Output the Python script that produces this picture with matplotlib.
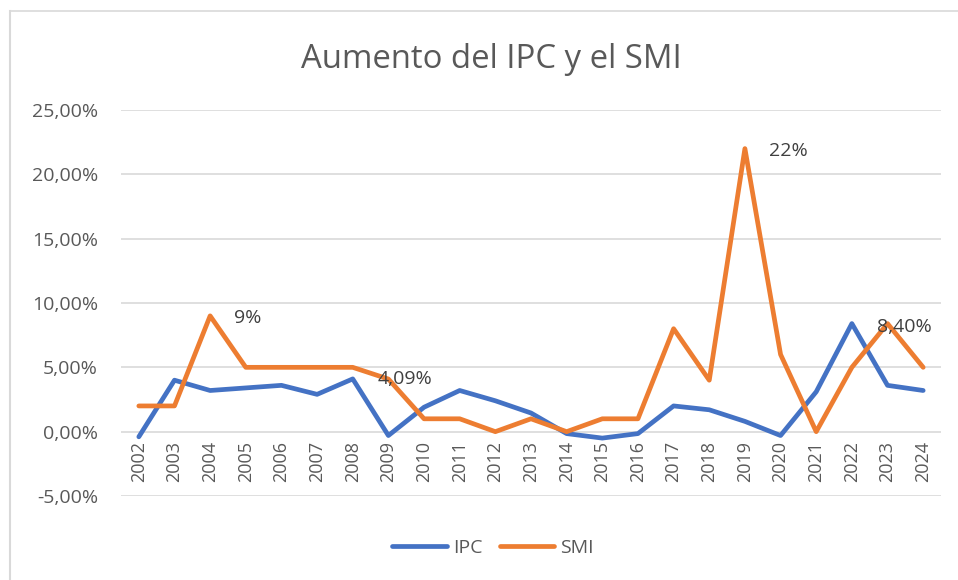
import matplotlib
matplotlib.use("Agg")
import matplotlib.pyplot as plt
from matplotlib.lines import Line2D
from matplotlib.ticker import FuncFormatter
import matplotlib.transforms as mtransforms

plt.rcParams['font.family'] = ['Open Sans', 'DejaVu Sans']

years = ["2002", "2003", "2004", "2005", "2006", "2007", "2008", "2009", "2010", "2011",
         "2012", "2013", "2014", "2015", "2016", "2017", "2018", "2019", "2020", "2021",
         "2022", "2023", "2024"]
ipc = [-0.4, 4.0, 3.2, 3.4, 3.6, 2.9, 4.1, -0.3, 1.9, 3.2,
       2.4, 1.45, -0.15, -0.5, -0.15, 2.0, 1.7, 0.8, -0.3, 3.1,
       8.4, 3.6, 3.2]
smi = [2.0, 2.0, 9.0, 5.0, 5.0, 5.0, 5.0, 4.09, 1.0, 1.0,
       0.0, 1.0, 0.0, 1.0, 1.0, 8.0, 4.0, 22.0, 6.0, 0.0,
       5.0, 8.4, 5.0]
labels = {2: "9%", 7: "4,09%", 17: "22%", 21: "8,40%"}
label_offsets = {2: (24, -2, 'left'), 7: (17, 0, 'center'), 17: (43, -2, 'center'), 21: (17, -3, 'center')}
yticks = [-5, 0, 5, 10, 15, 20, 25]

W, H = 958, 580
fig = plt.figure(figsize=(W / 100, H / 100), dpi=100)
ax = fig.add_axes([121 / W, 1 - 496 / H, 820 / W, (496 - 110) / H])

blue = "#4472C4"
orange = "#ED7D31"
x = list(range(len(years)))
ax.plot(x, ipc, color=blue, lw=3.4, solid_capstyle='round', solid_joinstyle='round', label="IPC")
ax.plot(x, smi, color=orange, lw=3.4, solid_capstyle='round', solid_joinstyle='round', label="SMI")

ax.set_xlim(-0.5, len(years) - 0.5)
ax.set_ylim(-5, 25)
ax.set_yticks(yticks)
ax.yaxis.set_major_formatter(FuncFormatter(lambda v, p: f"{v:.2f}%".replace('.', ',')))
ax.tick_params(axis='y', length=0, pad=16.5, labelsize=14, labelcolor="#595959")
ax.set_xticks([])
ax.grid(axis='y', color="#D9D9D9", lw=1.2)
ax.set_axisbelow(True)
for s in ax.spines.values():
    s.set_visible(False)

# category labels along the 0% axis
trans = mtransforms.blended_transform_factory(ax.transData, ax.transData)
for i, yr in enumerate(years):
    ax.text(i, 0, yr, rotation=90, ha='center', va='top', fontsize=13, color="#595959",
            transform=trans + mtransforms.ScaledTranslation(0, -9 / 100, fig.dpi_scale_trans))

for i, txt in labels.items():
    dx, dy, ha = label_offsets[i]
    ax.annotate(txt, (i, smi[i]), xytext=(dx, dy), textcoords='offset pixels',
                ha=ha, va='center', fontsize=14, color="#404040")

fig.text(491 / W, 1 - 60 / H, "Aumento del IPC y el SMI", ha='center', va='center',
         fontsize=23.7, color="#595959")

leg = ax.legend(loc='center', bbox_to_anchor=(493 / W, 1 - 548 / H), bbox_transform=fig.transFigure,
                ncol=2, frameon=False, fontsize=14, handlelength=2.8, columnspacing=0.9,
                handletextpad=0.3)
for t in leg.get_texts():
    t.set_color("#595959")

# chart border (top and left visible)
fig.add_artist(Line2D([9.5 / W, 9.5 / W], [0, 1 - 11 / H], transform=fig.transFigure, color="#D9D9D9", lw=1.5))
fig.add_artist(Line2D([9.5 / W, 1], [1 - 11 / H, 1 - 11 / H], transform=fig.transFigure, color="#D9D9D9", lw=1.2))

fig.savefig("out.png", dpi=100)
